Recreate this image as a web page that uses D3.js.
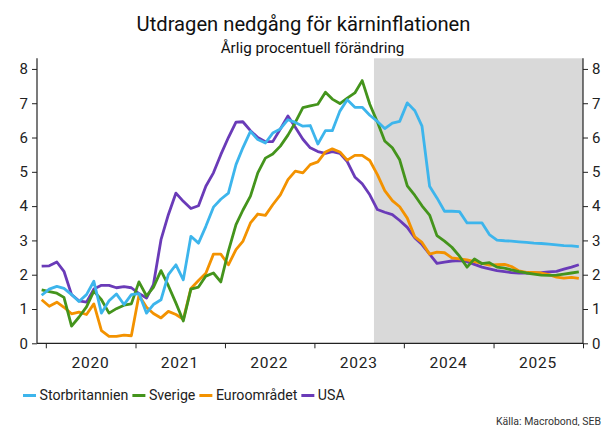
<!DOCTYPE html>
<html>
<head>
<meta charset="utf-8">
<script src="https://cdn.jsdelivr.net/npm/d3@7/dist/d3.min.js"></script>
<style>
  body{margin:0;background:#fff;}
  svg{display:block;font-family:Roboto,"Noto Sans",sans-serif;}
</style>
</head>
<body>
<svg id="chart" width="607" height="426"></svg>
<script>
// ── texts ──
const TITLE="Utdragen nedgång för kärninflationen";
const SUBTITLE="Årlig procentuell förändring";
const SOURCE="Källa: Macrobond, SEB";
const SERIES=["Storbritannien","Sverige","Euroområdet","USA"];
const COLORS=["#3db5ec","#44941c","#f39200","#6a3bb8"];
const YEARS=["2020","2021","2022","2023","2024","2025"];
const Y_TICKS=[0,1,2,3,4,5,6,7,8];

// ── monthly values, Dec 2019 .. Dec 2025 (forecast from Sep 2023) ──
const uk=[1.40,1.58,1.66,1.60,1.42,1.22,1.42,1.81,0.88,1.24,1.44,1.13,1.42,
  1.45,0.88,1.13,1.27,2.00,2.29,1.85,3.12,2.92,3.41,3.97,4.20,
  4.38,5.21,5.70,6.18,5.94,5.84,6.13,6.25,6.52,6.44,6.33,6.35,
  5.81,6.20,6.20,6.77,7.10,6.88,6.88,6.65,6.47,6.26,6.42,6.47,
  7.01,6.78,6.33,4.58,4.24,3.85,3.85,3.84,3.51,3.51,3.51,3.17,
  3.01,2.99,2.98,2.96,2.94,2.92,2.91,2.89,2.87,2.85,2.84,2.82];
const se=[1.56,1.51,1.46,1.34,0.50,0.76,1.06,1.52,1.27,0.88,1.01,1.11,1.15,
  1.79,1.38,1.63,2.12,1.68,1.17,0.65,1.58,1.64,1.96,2.05,1.79,
  2.69,3.46,3.88,4.29,4.97,5.40,5.52,5.75,6.07,6.44,6.87,6.92,
  6.97,7.32,7.12,6.99,7.15,7.30,7.66,6.97,6.45,5.90,5.70,5.35,
  4.59,4.31,4.01,3.74,3.14,2.98,2.80,2.54,2.22,2.46,2.32,2.35,
  2.22,2.19,2.14,2.09,2.05,2.02,1.99,1.98,1.99,2.02,2.05,2.08];
const ea=[1.27,1.08,1.20,1.05,0.86,0.91,0.84,1.15,0.37,0.20,0.20,0.24,0.22,
  1.40,1.05,0.87,0.74,0.93,0.84,0.70,1.60,1.83,2.04,2.60,2.60,
  2.29,2.73,2.97,3.51,3.77,3.73,4.04,4.33,4.77,5.02,4.97,5.21,
  5.29,5.58,5.67,5.58,5.34,5.48,5.48,5.33,4.92,4.45,4.16,3.98,
  3.65,3.10,2.94,2.60,2.66,2.64,2.49,2.46,2.43,2.38,2.33,2.28,
  2.29,2.30,2.24,2.11,2.07,2.07,2.05,2.00,1.93,1.90,1.92,1.89];
const us=[2.25,2.26,2.37,2.10,1.42,1.24,1.20,1.58,1.69,1.69,1.62,1.65,1.62,
  1.45,1.32,1.71,3.02,3.75,4.38,4.14,3.93,4.01,4.58,4.97,5.50,
  6.00,6.45,6.46,6.20,6.00,5.88,5.88,6.25,6.63,6.30,5.95,5.70,
  5.59,5.54,5.59,5.54,5.30,4.85,4.65,4.33,3.90,3.82,3.75,3.58,
  3.38,3.07,2.88,2.60,2.33,2.37,2.40,2.41,2.38,2.30,2.22,2.17,
  2.12,2.09,2.06,2.05,2.05,2.05,2.06,2.08,2.10,2.16,2.22,2.29];
const VALUES=[uk,se,ea,us];
const FORECAST_FROM=new Date(2023,8,1);

// one point per month, placed mid-month
const dates=d3.timeMonth.range(new Date(2019,11,1),new Date(2026,0,1)).map(d=>d3.timeDay.offset(d,14));

const svg=d3.select("#chart");
const M={l:37,r:583,t:58.3,b:343.3};
const x=d3.scaleTime().domain([new Date(2019,10,26),new Date(2026,0,1)]).range([M.l,M.r]);
const y=d3.scaleLinear().domain([0,8.31]).range([M.b,M.t]);

// forecast shading
svg.append("rect").attr("x",x(FORECAST_FROM)).attr("y",M.t)
  .attr("width",x.range()[1]-x(FORECAST_FROM)).attr("height",M.b-M.t).attr("fill","#d9d9d9");

// ── lines (USA at the bottom, UK on top) ──
const line=d3.line().x((d,i)=>x(dates[i])).y(d=>y(d));
d3.range(SERIES.length).reverse().forEach(i=>{
  svg.append("path").datum(VALUES[i]).attr("d",line).attr("fill","none")
    .attr("stroke",COLORS[i]).attr("stroke-width",2.8).attr("stroke-linejoin","round");
});

// ── axes ──
const ink="#222";
const yl=svg.append("g").attr("transform",`translate(${M.l},0)`)
  .call(d3.axisLeft(y).tickValues(Y_TICKS).tickSize(5).tickPadding(4));
const yr=svg.append("g").attr("transform",`translate(${M.r},0)`)
  .call(d3.axisRight(y).tickValues(Y_TICKS).tickSize(5).tickPadding(4));
const yearTicks=d3.range(2020,2027).map(v=>new Date(v,0,1));
const xa=svg.append("g").attr("transform",`translate(0,${M.b})`)
  .call(d3.axisBottom(x).tickValues(yearTicks).tickSize(5).tickFormat(""));
[yl,yr,xa].forEach(g=>{
  g.select(".domain").attr("stroke",ink).attr("stroke-width",1.2);
  g.selectAll(".tick line").attr("stroke",ink);
  g.selectAll("text").attr("fill",ink).attr("font-size",15).attr("font-family","Roboto,sans-serif");
});
yl.select(".domain").attr("d",`M0,${M.t}V${M.b}`);
yr.select(".domain").attr("d",`M0,${M.t}V${M.b}`);
xa.select(".domain").attr("d",`M${M.l},0H${M.r}`);

// year labels in the middle of each year
svg.append("g").selectAll("text").data(YEARS).join("text")
  .attr("x",d=>x(new Date(+d,6,1))).attr("y",368)
  .attr("text-anchor","middle").attr("font-size",15.5).attr("letter-spacing",0.8).attr("fill",ink)
  .text(d=>d);

// ── titles ──
svg.append("text").attr("x",303.5).attr("y",30.5).attr("text-anchor","middle")
  .attr("font-size",20.2).attr("fill","#111").text(TITLE);
svg.append("text").attr("x",312.5).attr("y",53).attr("text-anchor","middle")
  .attr("font-size",15.2).attr("fill","#111").text(SUBTITLE);

// ── legend ──
const lg=svg.append("g").attr("transform","translate(23,400)");
let lx=0;
SERIES.forEach((s,i)=>{
  lg.append("line").attr("x1",lx).attr("x2",lx+13).attr("y1",-4.5).attr("y2",-4.5)
    .attr("stroke",COLORS[i]).attr("stroke-width",3);
  const t=lg.append("text").attr("x",lx+16.5).attr("y",0).attr("font-size",14.2).attr("fill",ink).text(s);
  lx+=16.5+t.node().getComputedTextLength()+4;
});

// ── source ──
svg.append("text").attr("x",601).attr("y",424.5).attr("text-anchor","end")
  .attr("font-size",10.5).attr("fill","#333").text(SOURCE);
</script>
</body>
</html>
